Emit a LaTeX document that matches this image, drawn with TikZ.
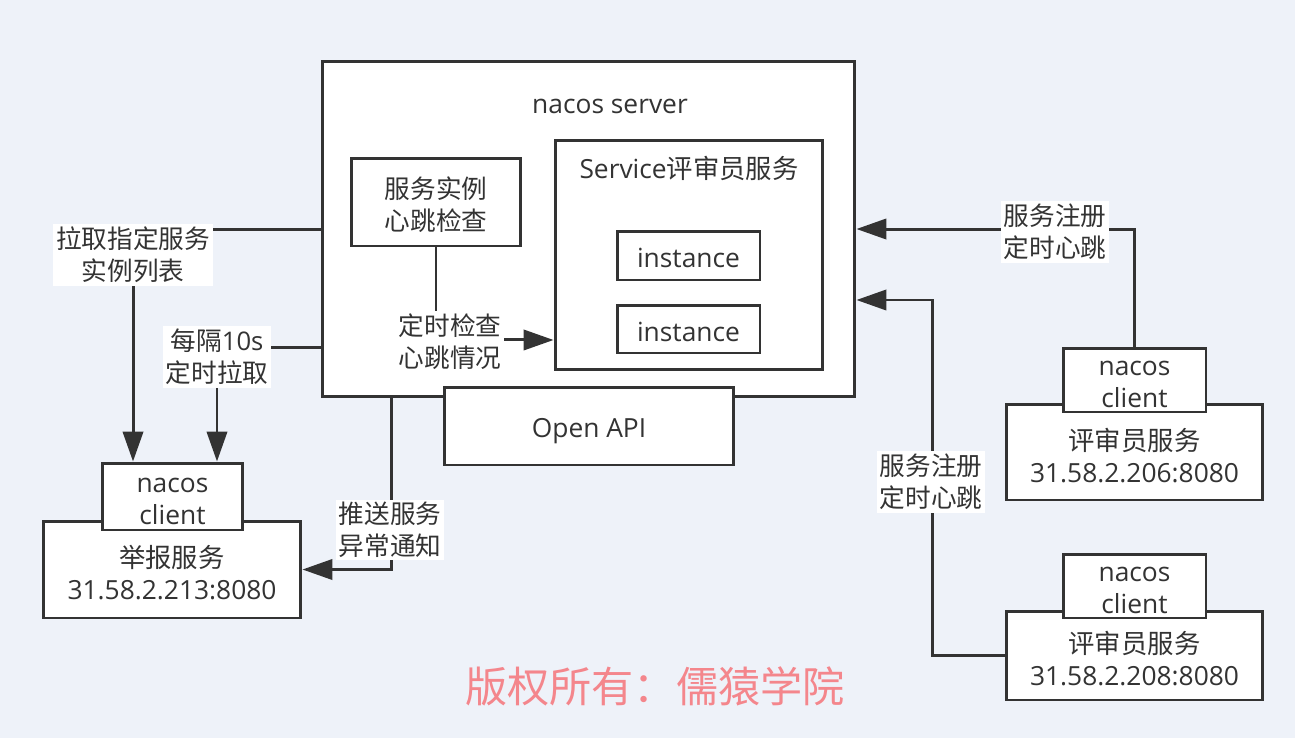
\documentclass[tikz,border=0pt]{standalone}
\usepackage{fontspec}
\setmainfont{Open Sans}
\newfontfamily\cjk{Noto Sans CJK SC}
\usepackage{tikz}
\usetikzlibrary{arrows.meta}
\definecolor{bg_col}{HTML}{EEF2F9}
\definecolor{line_col}{HTML}{333333}
\definecolor{mark_col}{HTML}{F4868C}
\tikzset{ box_node/.style = {rectangle, draw=line_col, line width=1.7pt, fill=white, align=center, inner sep=0pt, text=line_col, font=\fontsize{15}{18.2}\selectfont} }
\tikzset{ edge_label/.style = {rectangle, fill=white, align=center, inner sep=1.5pt, text=line_col, font=\fontsize{14.6}{18.2}\selectfont} }
\tikzset{ conn/.style = {draw=line_col, line width=1.7pt, -{Triangle[length=17pt,width=11.5pt]}} }

\begin{document}
\begin{tikzpicture}[x=0.02cm, y=-0.02cm]
        \fill[bg_col] (0,0) rectangle (1295,738);
        \useasboundingbox (0,0) rectangle (1295,738);
        % server side
        \node[box_node, minimum width=10.66cm, minimum height=6.72cm] (srv) at (588.5,229) {};
        \node[text=line_col, font=\fontsize{15}{18.2}\selectfont] (srvname) at (610,106) {nacos server};
        \node[box_node, minimum width=3.4cm, minimum height=1.76cm, font=\fontsize{14.6}{18.2}\selectfont] (hb) at (436,202) {\\[-3pt]\cjk 服务实例\\\cjk 心跳检查};
        \node[box_node, minimum width=5.36cm, minimum height=4.6cm] (svc) at (689,255) {};
        \node[text=line_col, font=\fontsize{15}{18.2}\selectfont] (svcname) at (689,168) {Service{\cjk 评审员服务}};
        \node[box_node, minimum width=2.86cm, minimum height=0.98cm, text height=14pt] (inst1) at (688.5,255.5) {instance};
        \node[box_node, minimum width=2.86cm, minimum height=0.96cm, text height=14pt] (inst2) at (688.5,329) {instance};
        \node[box_node, minimum width=5.8cm, minimum height=1.56cm, text height=13pt, text depth=0pt] (api) at (589,426) {Open API};
        % clients
        \node[box_node, minimum width=5.16cm, minimum height=1.94cm] (lsvc) at (172,569.5) {\\[-2pt]{\cjk 举报服务}\\31.58.2.213:8080};
        \node[box_node, minimum width=2.82cm, minimum height=1.34cm] (lcli) at (172.5,496.5) {\\[-4.6pt]nacos\\client};
        \node[box_node, minimum width=5.14cm, minimum height=1.92cm] (r1svc) at (1134.5,452) {\\[-2pt]{\cjk 评审员服务}\\31.58.2.206:8080};
        \node[box_node, minimum width=2.86cm, minimum height=1.28cm] (r1cli) at (1134.5,380) {\\[-4.6pt]nacos\\client};
        \node[box_node, minimum width=5.14cm, minimum height=1.78cm] (r2svc) at (1134.5,655.5) {\\[-2pt]{\cjk 评审员服务}\\31.58.2.208:8080};
        \node[box_node, minimum width=2.86cm, minimum height=1.28cm] (r2cli) at (1134.5,586) {\\[-4.6pt]nacos\\client};
        % connectors
        \draw[conn] (srv.west) -| ([xshift=-0.79cm]lcli.north);
        \draw[conn] ([yshift=-2.38cm]srv.west) -| ([xshift=0.89cm]lcli.north);
        \draw[conn] ([xshift=-3.95cm]srv.south) |- (lsvc.east);
        \draw[conn] (hb.south) |- ([yshift=-1.7cm]svc.west);
        \draw[conn] (r1cli.north) |- (srv.east);
        \draw[conn] (r2svc.west) -| ([xshift=1.52cm, yshift=-1.42cm]srv.east) -- ([yshift=-1.42cm]srv.east);
        % labels
        \node[edge_label] (l1) at (133,255) {\cjk 拉取指定服务\\\cjk 实例列表};
        \node[edge_label] (l2) at (217,357) {{\cjk 每隔}10s\\\cjk 定时拉取};
        \node[edge_label] (l3) at (390,530) {\cjk 推送服务\\\cjk 异常通知};
        \node[edge_label] (l4) at (450,342) {\cjk 定时检查\\\cjk 心跳情况};
        \node[edge_label] (l5) at (1055,232) {\cjk 服务注册\\\cjk 定时心跳};
        \node[edge_label] (l6) at (931,482) {\cjk 服务注册\\\cjk 定时心跳};
        % watermark
        \node[text=mark_col, font=\fontsize{24}{28}\selectfont\cjk] (mark) at (655,686) {版权所有：儒猿学院};
    \end{tikzpicture}
\end{document}
